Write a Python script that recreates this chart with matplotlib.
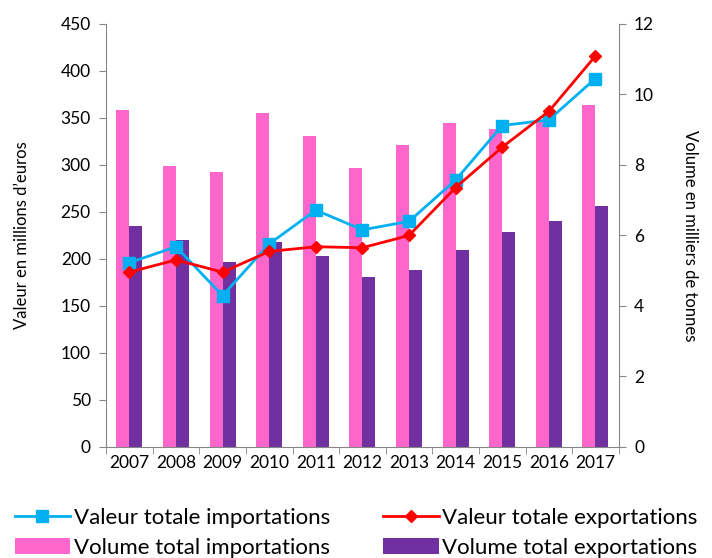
import matplotlib.pyplot as plt
import numpy as np

plt.rcParams['font.family'] = ['Lato', 'DejaVu Sans']

years = ['2007', '2008', '2009', '2010', '2011', '2012', '2013', '2014', '2015', '2016', '2017']
# valeurs en millions d'euros (axe gauche)
val_import = [196, 213, 161, 216, 252, 231, 240, 284, 342, 348, 392]
val_export = [186, 199, 186, 208, 213, 212, 225, 276, 319, 357, 416]
# volumes en milliers de tonnes (axe droit)
vol_import = [9.55, 7.98, 7.81, 9.47, 8.83, 7.92, 8.58, 9.18, 9.03, 9.26, 9.70]
vol_export = [6.28, 5.88, 5.24, 5.82, 5.41, 4.82, 5.03, 5.60, 6.09, 6.41, 6.84]

x = np.arange(len(years))
w = 0.28
grey = '#868686'

fig = plt.figure(figsize=(7.12, 5.58), dpi=100)
ax = fig.add_axes([0.149, 0.199, 0.72, 0.758])
ax2 = ax.twinx()
ax.set_zorder(ax2.get_zorder() + 1)
ax.patch.set_visible(False)

b1 = ax2.bar(x - w / 2, vol_import, w, color='#FF66CC', label='Volume total importations')
b2 = ax2.bar(x + w / 2, vol_export, w, color='#7030A0', label='Volume total exportations')

l1, = ax.plot(x, val_import, color='#00B0F0', marker='s', markersize=8, lw=2,
              label='Valeur totale importations')
l2, = ax.plot(x, val_export, color='#FF0000', marker='D', markersize=6, lw=2,
              label='Valeur totale exportations')

ax.set_xlim(-0.5, len(years) - 0.5)
ax.set_ylim(0, 450)
ax.set_yticks(range(0, 451, 50))
ax2.set_ylim(0, 12)
ax2.set_yticks(range(0, 13, 2))

ax.set_xticks(x)
ax.set_xticklabels(years)
ax.set_xticks(np.arange(-0.5, len(years), 1), minor=True)
ax.tick_params(axis='x', which='major', length=0, pad=6, labelsize=12.5)
ax.tick_params(axis='x', which='minor', length=5, color=grey)
ax.tick_params(axis='y', length=5, color=grey, labelsize=12.5, pad=6)
ax2.tick_params(axis='y', length=5, color=grey, labelsize=12.5, pad=6)

for a in (ax, ax2):
    for s in a.spines.values():
        s.set_visible(False)
ax.spines['left'].set_visible(True)
ax.spines['bottom'].set_visible(True)
ax2.spines['right'].set_visible(True)
for s in (ax.spines['left'], ax.spines['bottom'], ax2.spines['right']):
    s.set_color(grey)

ax.set_ylabel("Valeur en millions d’euros", fontsize=12, labelpad=22)
ax2.set_ylabel('Volume en milliers de tonnes', fontsize=12, rotation=270, labelpad=32)

fig.legend([l1, b1, l2, b2],
           [l1.get_label(), b1.get_label(), l2.get_label(), b2.get_label()],
           ncol=2, loc='lower center', bbox_to_anchor=(0.5, -0.035), frameon=False,
           fontsize=16, columnspacing=2.4, handlelength=2.5, handletextpad=0.15,
           labelspacing=0.45)

fig.savefig('out.png', dpi=100)
